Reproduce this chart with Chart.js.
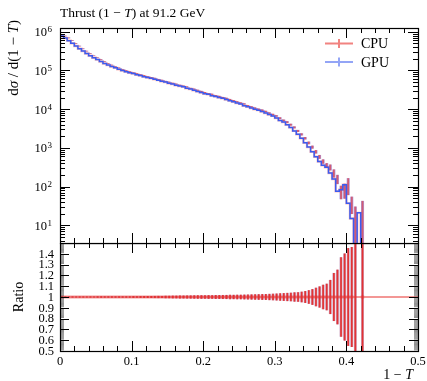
<!DOCTYPE html>
<html>
<head>
<meta charset="utf-8">
<script src="https://cdn.jsdelivr.net/npm/chart.js@4.4.1/dist/chart.umd.min.js"></script>
<style>
  body { margin: 0; background: #fff; }
  #wrap { position: relative; width: 427px; height: 381px; }
  canvas { position: absolute; left: 0; }
</style>
</head>
<body>
<div id="wrap">
  <canvas id="main" width="427" height="250" style="top:0"></canvas>
  <canvas id="ratio" width="427" height="138" style="top:243px"></canvas>
</div>
<script>
// Thrust (1-T) at 91.2 GeV -- CPU vs GPU generator output
const seriesNames = ['CPU', 'GPU'];
const binWidth = 0.005;

// dsigma/d(1-T), one value per bin of width 0.005 starting at 0 (0 = empty bin)
const cpuValues = [
  832000, 776000, 692000, 589000, 501000, 427000, 363000, 316000, 275000, 240000,
  214000, 191000, 170000, 151000, 138000, 126000, 117000, 107000, 100000, 93300,
  87100, 83200, 77600, 74100, 69200, 66100, 63100, 58900, 56200, 52500,
  50100, 46800, 44700, 41700, 39800, 37800, 34500, 33100, 30900, 28800,
  26900, 25100, 24300, 22400, 21400, 20000, 19100, 17800, 16600, 15500,
  14500, 13700, 12300, 11500, 10700, 10000, 9450, 8710, 7940, 7240,
  6700, 5890, 5130, 4650, 3980, 3390, 2750, 2240, 1780, 1350,
  1050, 794, 589, 447, 355, 316, 224, 158, 76, 83,
  112, 37, 15, 0, 21
];
// same seed on both back-ends: the histograms agree bin by bin
const gpuValues = cpuValues.slice();

// relative statistical error per bin
const relErrors = [
  0.002, 0.002, 0.002, 0.002, 0.002, 0.002, 0.002, 0.002, 0.002, 0.002,
  0.003, 0.003, 0.003, 0.003, 0.003, 0.003, 0.003, 0.003, 0.003, 0.003,
  0.005, 0.005, 0.005, 0.006, 0.006, 0.006, 0.007, 0.007, 0.007, 0.008,
  0.008, 0.009, 0.009, 0.010, 0.010, 0.011, 0.011, 0.012, 0.012, 0.013,
  0.013, 0.014, 0.014, 0.015, 0.015, 0.016, 0.016, 0.017, 0.017, 0.018,
  0.018, 0.019, 0.020, 0.021, 0.022, 0.023, 0.024, 0.025, 0.026, 0.028,
  0.029, 0.031, 0.033, 0.035, 0.037, 0.040, 0.042, 0.046, 0.052, 0.060,
  0.070, 0.083, 0.095, 0.11, 0.12, 0.155, 0.22, 0.25, 0.365, 0.40,
  0.45, 0.46, 1.0, 0, 1.0
];

const xTickLabels = ['0', '0.1', '0.2', '0.3', '0.4', '0.5'];
const ratioTickLabels = ['0.5', '0.6', '0.7', '0.8', '0.9', '1', '1.1', '1.2', '1.3', '1.4'];
const logTickExponents = [1, 2, 3, 4, 5, 6];

const xMin = 0, xMax = 0.5;
const yMin = 3.5, yMax = 1.25e6;
const rMin = 0.5, rMax = 1.5;

const RED = '#e8302c';
const BLUE = '#3b5bef';
const FONT = '"Liberation Serif", "DejaVu Serif", serif';

// ---- build datasets from the arrays ----
const nBins = cpuValues.length;
const edges = Array.from({ length: nBins + 1 }, (_, i) => +(i * binWidth).toFixed(4));
const centers = edges.slice(0, -1).map(e => +(e + binWidth / 2).toFixed(4));
const floorVal = yMin / 10;

const stepPoints = vals => {
  const pts = vals.map((v, i) => ({ x: edges[i], y: v > 0 ? v : floorVal }));
  pts.push({ x: edges[nBins], y: floorVal });
  return pts;
};
const errBars = vals => vals
  .map((v, i) => v > 0 ? { x: centers[i], y: [Math.max(v * (1 - relErrors[i]), floorVal), v * (1 + relErrors[i])] } : null)
  .filter(Boolean);

const ratio = gpuValues.map((v, i) => cpuValues[i] > 0 ? v / cpuValues[i] : null);
const ratioSteps = () => {
  const pts = ratio.map((r, i) => ({ x: edges[i], y: r }));
  pts.push({ x: edges[nBins], y: ratio[nBins - 1] });
  return pts;
};
const ratioBars = ratio
  .map((r, i) => r !== null ? { x: centers[i], y: [r - relErrors[i], r + relErrors[i]] } : null)
  .filter(Boolean);

// ---- drawing helpers ----
function richText(ctx, parts, x, y, size, align) {
  const fonts = parts.map(p => (p[1] ? 'italic ' : '') + size + 'px ' + FONT);
  let total = 0;
  parts.forEach((p, i) => { ctx.font = fonts[i]; total += ctx.measureText(p[0]).width; });
  let cx = align === 'right' ? x - total : align === 'center' ? x - total / 2 : x;
  ctx.textAlign = 'left';
  parts.forEach((p, i) => {
    ctx.font = fonts[i];
    ctx.fillText(p[0], cx, y);
    cx += ctx.measureText(p[0]).width;
  });
}

function drawFrame(chart, yTicks) {
  const { ctx, chartArea: a, scales: { x, y } } = chart;
  ctx.save();
  ctx.strokeStyle = '#000';
  ctx.lineWidth = 1;
  ctx.beginPath();
  for (let i = 0; i <= 25; i++) {
    const px = Math.round(x.getPixelForValue(i * 0.02)) + 0.5;
    const len = i % 5 === 0 ? 10 : 5;
    ctx.moveTo(px, a.top); ctx.lineTo(px, a.top + len);
    ctx.moveTo(px, a.bottom); ctx.lineTo(px, a.bottom - len);
  }
  yTicks.filter(t => !t[2]).forEach(([v, len]) => {
    const py = Math.round(y.getPixelForValue(v)) + 0.5;
    ctx.moveTo(a.left, py); ctx.lineTo(a.left + len, py);
    ctx.moveTo(a.right, py); ctx.lineTo(a.right - len, py);
  });
  ctx.stroke();
  // dense minor ticks drawn thin so they blend to grey
  ctx.lineWidth = 0.45;
  ctx.beginPath();
  yTicks.filter(t => t[2]).forEach(([v, len]) => {
    const py = y.getPixelForValue(v);
    ctx.moveTo(a.left, py); ctx.lineTo(a.left + len, py);
    ctx.moveTo(a.right, py); ctx.lineTo(a.right - len, py);
  });
  ctx.stroke();
  ctx.lineWidth = 1.2;
  ctx.strokeRect(a.left + 0.5, a.top + 0.5, a.right - a.left, a.bottom - a.top);
  ctx.restore();
}

// log ticks: decades long, 2..9 short
const logTicks = [];
for (let n = 0; n <= 6; n++) {
  for (let k = 1; k <= 9; k++) {
    const v = k * Math.pow(10, n);
    if (v >= yMin && v <= yMax) logTicks.push([v, k === 1 ? 10 : 5, false]);
  }
}
const ratioTicks = [];
for (let i = 51; i < 150; i++) ratioTicks.push([i / 100, i % 10 === 0 ? 9 : 4, i % 10 !== 0]);

const mainDecor = {
  id: 'mainDecor',
  afterDraw(chart) {
    const { ctx, chartArea: a, scales: { y } } = chart;
    drawFrame(chart, logTicks);
    ctx.save();
    ctx.fillStyle = '#000';
    ctx.textBaseline = 'alphabetic';
    // title
    richText(ctx, [['Thrust (1 \u2212 ', false], ['T', true], [') at 91.2 GeV', false]], a.left, 17, 13.5, 'left');
    // y tick labels 10^n
    logTickExponents.forEach(n => {
      const py = y.getPixelForValue(Math.pow(10, n));
      ctx.font = '9px ' + FONT;
      ctx.textAlign = 'right';
      ctx.fillText(String(n), 52, py + 0.5);
      const sw = ctx.measureText(String(n)).width;
      ctx.font = '12.5px ' + FONT;
      ctx.fillText('10', 52 - sw - 0.5, py + 4.5);
    });
    // y axis title
    ctx.save();
    ctx.translate(18, 20);
    ctx.rotate(-Math.PI / 2);
    richText(ctx, [['d', false], ['\u03c3', true], [' / d(1 \u2212 ', false], ['T', true], [')', false]], 0, 0, 15, 'right');
    ctx.restore();
    // legend
    seriesNames.forEach((name, i) => {
      const ly = 43.5 + i * 18.5;
      ctx.strokeStyle = i === 0 ? 'rgba(232,48,44,0.6)' : 'rgba(59,91,239,0.55)';
      ctx.lineWidth = 2;
      ctx.beginPath();
      ctx.moveTo(325, ly); ctx.lineTo(353, ly);
      ctx.moveTo(339, ly - 4.5); ctx.lineTo(339, ly + 4.5);
      ctx.stroke();
      ctx.font = '14px ' + FONT;
      ctx.textAlign = 'left';
      ctx.fillText(name, 361, ly + 4.5);
    });
    ctx.restore();
  }
};

const ratioDecor = {
  id: 'ratioDecor',
  afterDraw(chart) {
    const { ctx, chartArea: a, scales: { x, y } } = chart;
    drawFrame(chart, ratioTicks);
    ctx.save();
    ctx.fillStyle = '#000';
    ctx.font = '12.5px ' + FONT;
    ctx.textBaseline = 'middle';
    ctx.textAlign = 'center';
    xTickLabels.forEach(t => ctx.fillText(t, x.getPixelForValue(parseFloat(t)), a.bottom + 11));
    ctx.textAlign = 'right';
    ratioTickLabels.forEach(t => ctx.fillText(t, 54, y.getPixelForValue(parseFloat(t)) + 0.5));
    ctx.textBaseline = 'alphabetic';
    richText(ctx, [['1 \u2212 ', false], ['T', true]], a.right - 5, a.bottom + 28, 14, 'right');
    ctx.save();
    ctx.translate(23, y.getPixelForValue(1));
    ctx.rotate(-Math.PI / 2);
    richText(ctx, [['Ratio', false]], 0, 0, 14, 'center');
    ctx.restore();
    ctx.restore();
  }
};

const baseOptions = (yScale, padding) => ({
  responsive: false,
  animation: false,
  events: [],
  layout: { padding },
  plugins: { legend: { display: false }, tooltip: { enabled: false } },
  scales: {
    x: { type: 'linear', min: xMin, max: xMax, offset: false, display: false },
    y: Object.assign({ display: false }, yScale)
  }
});

const lineDefaults = { type: 'line', stepped: 'after', pointRadius: 0, tension: 0, fill: false };
const barDefaults = { type: 'bar', grouped: false, borderWidth: 0 };

window.onload = () => {
  new Chart(document.getElementById('main').getContext('2d'), {
    type: 'line',
    data: {
      datasets: [
        Object.assign({}, lineDefaults, { label: 'GPU', data: stepPoints(gpuValues), borderColor: BLUE, borderWidth: 1.5, order: 0 }),
        Object.assign({}, lineDefaults, { label: 'CPU', data: stepPoints(cpuValues), borderColor: 'rgba(232,48,44,0.3)', borderWidth: 2.4, order: 1 }),
        Object.assign({}, barDefaults, { label: 'CPU err', data: errBars(cpuValues), backgroundColor: 'rgba(232,48,44,0.6)', barThickness: 1.2, order: 2 }),
        Object.assign({}, barDefaults, { label: 'GPU err', data: errBars(gpuValues), backgroundColor: 'rgba(110,80,200,0.55)', barThickness: 2.4, order: 3 })
      ]
    },
    options: baseOptions({ type: 'logarithmic', min: yMin, max: yMax }, { left: 60, right: 9, top: 28, bottom: 7 }),
    plugins: [mainDecor]
  });

  new Chart(document.getElementById('ratio').getContext('2d'), {
    type: 'line',
    data: {
      datasets: [
        Object.assign({}, lineDefaults, { label: 'CPU', data: [{ x: xMin, y: 1 }, { x: xMax, y: 1 }], borderColor: RED, borderWidth: 1.2, order: 0 }),
        Object.assign({}, barDefaults, { label: 'CPU err', data: ratioBars, backgroundColor: 'rgba(232,40,36,0.9)', barThickness: 1, order: 1 }),
        Object.assign({}, barDefaults, { label: 'GPU err', data: ratioBars, backgroundColor: 'rgba(150,60,120,0.5)', barThickness: 2.2, order: 2 }),
        Object.assign({}, lineDefaults, { label: 'GPU', data: ratioSteps(), borderColor: 'rgba(240,110,110,0.35)', borderWidth: 4, order: 3 })
      ]
    },
    options: baseOptions({ type: 'linear', min: rMin, max: rMax }, { left: 60, right: 9, top: 0, bottom: 30 }),
    plugins: [ratioDecor]
  });
};
</script>
</body>
</html>
